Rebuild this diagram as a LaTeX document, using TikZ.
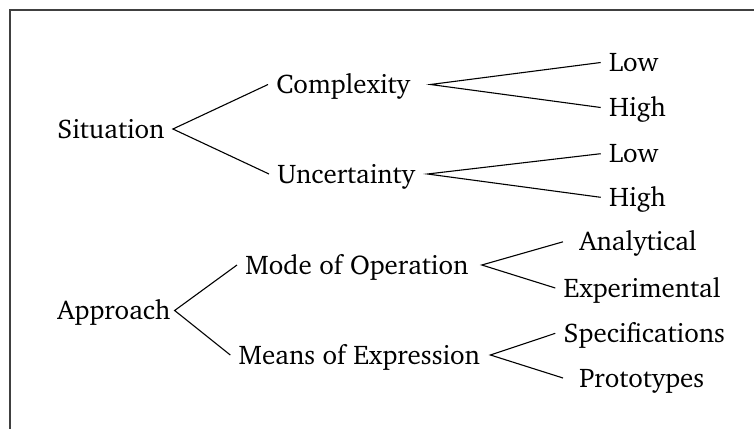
\documentclass[tikz,border=0pt]{standalone}
\usepackage[T1]{fontenc}
\usepackage{charter}
\usetikzlibrary{positioning}

\begin{document}
\begin{tikzpicture}[x=0.5pt,y=-0.5pt,
    lbl/.style={anchor=west, inner xsep=4pt, inner ysep=0pt, text height=9pt, text depth=0pt, font=\fontsize{13.5}{16}\selectfont},
    fork/.style={black, line width=0.55pt}]
     \useasboundingbox (0,0) rectangle (754,429);
     \draw [black!75, line width=0.9pt] (754,10) -- (10,10) -- (10,429);

     % situation branch
     \node [lbl] (sit) at (49,129) {Situation};
     \node [lbl] (cplx) at (268,84.5) {Complexity};
     \node [lbl] (unc) at (269,174) {Uncertainty};
     \node [lbl] (cplxlow) at (600.7,62.5) {Low};
     \node [lbl] (cplxhigh) at (600.7,107.5) {High};
     \node [lbl] (unclow) at (600.7,153.7) {Low};
     \node [lbl] (unchigh) at (600.7,197.3) {High};

     % approach branch
     \node [lbl] (appr) at (49,310.5) {Approach};
     \node [lbl] (mode) at (237,265) {Mode of Operation};
     \node [lbl] (means) at (230.3,355) {Means of Expression};
     \node [lbl] (anal) at (571,241.8) {Analytical};
     \node [lbl] (exper) at (555.3,288) {Experimental};
     \node [lbl] (spec) at (555.3,333.3) {Specifications};
     \node [lbl] (proto) at (571,378) {Prototypes};

     \draw [fork] (cplx.west) -- (sit.east) -- (unc.west);
     \draw [fork] (cplxlow.west) -- ([xshift=6pt]cplx.east) -- (cplxhigh.west);
     \draw [fork] (unclow.west) -- ([xshift=2pt]unc.east) -- (unchigh.west);

     \draw [fork] (mode.west) -- ([xshift=-2pt]appr.east) -- (means.west);
     \draw [fork] ([xshift=-4pt]anal.west) -- ([xshift=2.5pt]mode.east) -- (exper.west);
     \draw [fork] (spec.west) -- ([xshift=1pt]means.east) -- ([xshift=-4pt]proto.west);
\end{tikzpicture}
\end{document}
